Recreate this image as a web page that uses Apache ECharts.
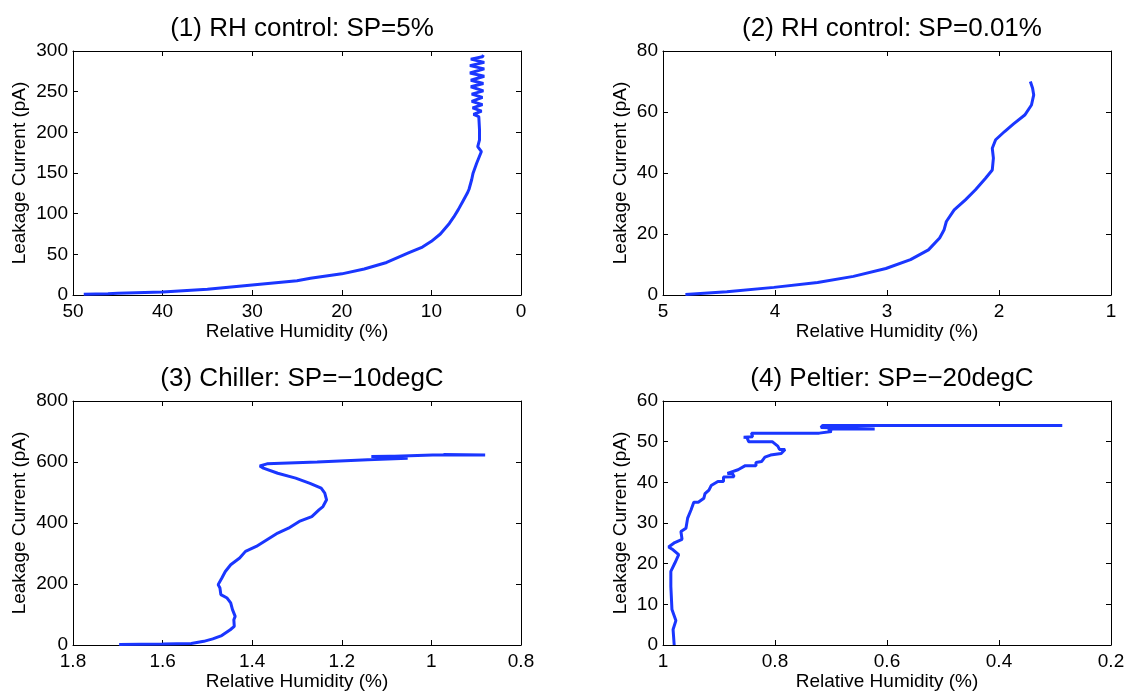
<!DOCTYPE html>
<html>
<head>
<meta charset="utf-8">
<script src="https://cdn.jsdelivr.net/npm/echarts@6/dist/echarts.min.js"></script>
<style>
html,body{margin:0;padding:0;background:#fff;}
#chart{width:1130px;height:693px;}
</style>
</head>
<body>
<div id="chart"></div>
<script>
// ---- Data (RH %, leakage current pA) ----
const titles = ['(1) RH control: SP=5%', '(2) RH control: SP=0.01%', '(3) Chiller: SP=\u221210degC', '(4) Peltier: SP=\u221220degC'];
const xAxisTitle = 'Relative Humidity (%)';
const yAxisTitle = 'Leakage Current (pA)';

const rh1 = [48.8,46.1,45.0,40.0,35.0,30.0,25.0,23.5,20.0,17.5,15.0,12.5,11.0,10.0,9.0,8.0,7.5,7.0,6.5,6.0,5.8,5.5,5.35,4.95,4.42,4.83,4.63,4.63,4.71,
  4.7,5.3,4.4,5.4,4.3,5.5,4.3,5.5,4.2,5.6,4.2,5.6,4.1,5.7,4.1,5.7,4.1,5.6,4.3,4.2];
const cur1 = [0.8,1.6,2.0,3.7,7.0,12.3,17.5,20.5,26.0,32.0,40.0,52.0,59.0,66.0,75.0,88.0,96.0,105.0,115.0,125.0,130.0,142.0,149.8,162,176.4,182.5,190.7,203,219.4,
  219,222,226,230,234,238,243,247,251,256,260,264,269,273,278,282,286,290,293,295];

const rh2 = [4.80,4.43,4.01,3.62,3.30,3.01,2.79,2.63,2.53,2.49,2.47,2.40,2.30,2.21,2.12,2.06,2.05,2.06,2.03,1.95,1.87,1.77,1.71,1.69,1.70,1.72];
const cur2 = [0.2,1.1,2.5,4.1,6.1,8.7,11.6,14.8,18.7,21.4,24.1,27.9,31.2,34.5,38.3,41.0,44.9,48.1,50.9,53.6,56.1,59.0,62.3,65.6,67.8,70.0];

const rh3 = [1.697,1.600,1.536,1.508,1.488,1.468,1.449,1.440,1.441,1.438,1.444,1.448,1.456,1.470,1.472,1.476,1.468,1.460,1.448,1.428,
  1.415,1.391,1.367,1.343,1.319,1.295,1.267,1.251,1.242,1.234,1.238,1.246,1.271,1.303,1.343,1.375,1.383,1.367,1.255,1.142,
  1.053,1.134,1.053,1.134,0.997,0.880,0.973];
const cur3 = [2,3,5,12,20,31,50,61,83,94,116,138,154,165,187,198,219,241,263,285,
  307,323,345,367,383,405,421,443,454,476,498,514,530,547,563,580,587,594,600,607,
  612,618,620,616,623,623,625];

const rh4 = [0.980,0.982,0.977,0.984,0.986,0.986,0.979,0.972,0.982,0.990,0.979,0.966,0.968,0.959,0.956,0.950,0.945,0.937,0.927,0.925,
  0.918,0.914,0.902,0.892,0.892,0.873,0.876,0.885,0.866,0.853,0.834,0.834,0.824,0.818,0.808,0.808,0.789,0.782,0.792,0.795,
  0.805,0.847,0.850,0.856,0.840,0.842,0.721,0.699,0.705,0.622,0.718,0.715,0.287];
const cur4 = [0,3.8,6,8.7,14.4,18.1,20.1,22.2,23.4,24.1,25.2,26,27.9,28.7,31.2,33.2,35.1,35.1,36.1,37.2,
  38.1,39.2,40.2,40.2,41.3,41.4,42.2,42.2,43.1,44.1,44.1,44.9,45.1,46.2,46.7,47.1,47.1,48.1,48.1,48.9,
  50,50,51,51.1,51.2,52.1,52.1,52.5,53.1,53.1,53.5,54.0,54.0];

const xRanges = [[0,50,10],[1,5,1],[0.8,1.8,0.2],[0.2,1,0.2]];
const yRanges = [[0,300,50],[0,80,20],[0,800,200],[0,60,10]];
const yNameGaps = [44, 33, 44, 33];
const seriesX = [rh1, rh2, rh3, rh4];
const seriesY = [cur1, cur2, cur3, cur4];

// ---- Layout ----
const grids = [
  {left:73, top:51, width:448, height:244},
  {left:663, top:51, width:448, height:244},
  {left:73, top:401, width:448, height:244},
  {left:663, top:401, width:448, height:244}
];
const FONT = 'Liberation Sans, Arial, Helvetica, sans-serif';
const lineColor = '#1a36ff';

const xAxes = [], yAxes = [], series = [], titleOpts = [];
grids.forEach((g, i) => {
  const [xmin, xmax, xint] = xRanges[i];
  const [ymin, ymax, yint] = yRanges[i];
  const common = {
    axisLine: {show: true, onZero: false, lineStyle: {color: '#000', width: 1}},
    axisTick: {show: true, inside: true, length: 5, lineStyle: {color: '#000', width: 1}},
    splitLine: {show: false}
  };
  xAxes.push(Object.assign({}, common, {
    type: 'value', gridIndex: i, min: xmin, max: xmax, interval: xint, inverse: true, position: 'bottom',
    name: xAxisTitle, nameLocation: 'middle', nameGap: 26,
    nameTextStyle: {fontFamily: FONT, fontSize: 19, color: '#000'},
    axisLabel: {fontFamily: FONT, fontSize: 19, color: '#000', margin: 7}
  }));
  xAxes.push(Object.assign({}, common, {
    type: 'value', gridIndex: i, min: xmin, max: xmax, interval: xint, inverse: true, position: 'top',
    axisLabel: {show: false}
  }));
  yAxes.push(Object.assign({}, common, {
    type: 'value', gridIndex: i, min: ymin, max: ymax, interval: yint, position: 'left',
    name: yAxisTitle, nameLocation: 'middle', nameGap: yNameGaps[i],
    nameTextStyle: {fontFamily: FONT, fontSize: 19, color: '#000'},
    axisLabel: {fontFamily: FONT, fontSize: 19, color: '#000', margin: 5}
  }));
  yAxes.push(Object.assign({}, common, {
    type: 'value', gridIndex: i, min: ymin, max: ymax, interval: yint, position: 'right',
    axisLabel: {show: false}
  }));
  const data = seriesX[i].map((x, k) => [x, seriesY[i][k]]);
  series.push({
    type: 'line', xAxisIndex: i * 2, yAxisIndex: i * 2, data: data,
    showSymbol: false, symbol: 'none', smooth: false, clip: true,
    lineStyle: {color: lineColor, width: 3}, animation: false
  });
  titleOpts.push({
    text: titles[i], left: g.left + g.width / 2, top: g.top - 40, textAlign: 'center',
    textStyle: {fontFamily: FONT, fontSize: 26, fontWeight: 'normal', color: '#000'}
  });
});

const chart = echarts.init(document.getElementById('chart'), null, {renderer: 'canvas'});
chart.setOption({
  backgroundColor: '#fff',
  animation: false,
  title: titleOpts,
  grid: grids.map(g => Object.assign({show: false, containLabel: false}, g)),
  xAxis: xAxes,
  yAxis: yAxes,
  series: series
});
</script>
</body>
</html>
